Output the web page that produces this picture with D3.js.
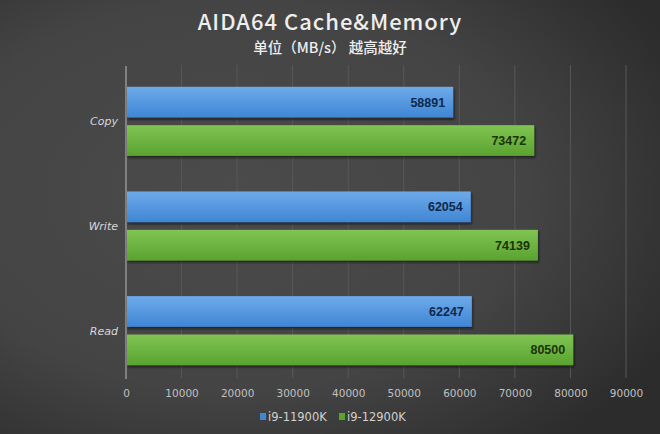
<!DOCTYPE html>
<html>
<head>
<meta charset="utf-8">
<script src="https://cdn.jsdelivr.net/npm/d3@7"></script>
<style>
  html, body { margin: 0; padding: 0; background: #3a3a3a; }
  svg { display: block; }
</style>
</head>
<body>
<div id="chart"></div>
<script>
var width = 660, height = 434;

var categories = ['Copy', 'Write', 'Read'];
var seriesNames = ['i9-11900K', 'i9-12900K'];
var i9_11900K = [58891, 62054, 62247];
var i9_12900K = [73472, 74139, 80500];
var xTicks = [0, 10000, 20000, 30000, 40000, 50000, 60000, 70000, 80000, 90000];

var colors = { 'i9-11900K': ['#6eaaea', '#3f86d4'], 'i9-12900K': ['#80c452', '#5aa330'] };
var labelColors = { 'i9-11900K': '#10284a', 'i9-12900K': '#1b3209' };

var rows = categories.map(function (c, i) {
  return { cat: c, vals: [
    { name: seriesNames[0], v: i9_11900K[i] },
    { name: seriesNames[1], v: i9_12900K[i] }
  ] };
});

var svg = d3.select('#chart').append('svg')
  .attr('width', width)
  .attr('height', height);

var defs = svg.append('defs');

// background vignette
var bg = defs.append('radialGradient').attr('id', 'bg')
  .attr('cx', '35%').attr('cy', '45%').attr('r', '75%');
bg.append('stop').attr('offset', '0%').attr('stop-color', '#4b4b4b');
bg.append('stop').attr('offset', '60%').attr('stop-color', '#444444');
bg.append('stop').attr('offset', '100%').attr('stop-color', '#2c2c2c');
svg.append('rect').attr('width', width).attr('height', height).attr('fill', 'url(#bg)');

seriesNames.forEach(function (s, i) {
  var g = defs.append('linearGradient').attr('id', 'grad' + i)
    .attr('x1', 0).attr('y1', 0).attr('x2', 0).attr('y2', 1);
  g.append('stop').attr('offset', '0%').attr('stop-color', colors[s][0]);
  g.append('stop').attr('offset', '100%').attr('stop-color', colors[s][1]);
});

var shadow = defs.append('filter').attr('id', 'shadow')
  .attr('x', '-5%').attr('y', '-20%').attr('width', '110%').attr('height', '150%');
shadow.append('feDropShadow').attr('dx', 1).attr('dy', 2).attr('stdDeviation', 1)
  .attr('flood-color', '#111').attr('flood-opacity', 0.7);

var x = d3.scaleLinear().domain([0, 90000]).range([126, 626]);
var y0 = d3.scaleBand().domain(categories).range([69, 383])
  .paddingInner(0.34).paddingOuter(0.17);
var y1 = d3.scaleBand().domain(seriesNames).range([0, y0.bandwidth()]).paddingInner(0.2);

// title
svg.append('text').attr('x', 330).attr('y', 30)
  .attr('text-anchor', 'middle')
  .attr('fill', '#eeeeee')
  .style('font-family', '"Noto Sans CJK SC", "Noto Sans", sans-serif')
  .style('font-size', '22px')
  .style('font-weight', 500)
  .style('letter-spacing', '1px')
  .text('AIDA64 Cache&Memory');
svg.append('text').attr('x', 330).attr('y', 53)
  .attr('text-anchor', 'middle')
  .attr('fill', '#eeeeee')
  .style('font-family', '"Noto Sans CJK SC", sans-serif')
  .style('font-size', '14.5px')
  .style('font-weight', 500)
  .text('单位（MB/s） 越高越好');

// gridlines
svg.append('g')
  .selectAll('line').data(xTicks.slice(1)).enter().append('line')
  .attr('x1', function (d) { return x(d); })
  .attr('x2', function (d) { return x(d); })
  .attr('y1', 65).attr('y2', 378)
  .attr('stroke', '#585858').attr('stroke-width', 1);

// x axis
var xAxis = svg.append('g')
  .attr('transform', 'translate(0,' + 378 + ')')
  .call(d3.axisBottom(x).tickValues(xTicks).tickSize(0).tickPadding(12).tickFormat(d3.format('d')));
xAxis.select('.domain').remove();
xAxis.selectAll('text')
  .attr('fill', '#c0c0c0')
  .style('font-family', '"DejaVu Sans", sans-serif')
  .style('font-size', '10.5px');

// y axis line
svg.append('line')
  .attr('x1', x(0)).attr('x2', x(0))
  .attr('y1', 66).attr('y2', 379)
  .attr('stroke', '#a8a8a8').attr('stroke-width', 1.2);

// bars
var groups = svg.append('g').selectAll('g').data(rows).enter().append('g')
  .attr('transform', function (d) { return 'translate(0,' + y0(d.cat) + ')'; });

groups.selectAll('rect').data(function (d) { return d.vals; }).enter().append('rect')
  .attr('x', x(0) + 1)
  .attr('y', function (d) { return y1(d.name); })
  .attr('width', function (d) { return x(d.v) - x(0) - 1; })
  .attr('height', y1.bandwidth())
  .attr('fill', function (d) { return 'url(#grad' + seriesNames.indexOf(d.name) + ')'; })
  .attr('filter', 'url(#shadow)');

groups.selectAll('text.val').data(function (d) { return d.vals; }).enter().append('text')
  .attr('class', 'val')
  .attr('x', function (d) { return x(d.v) - 8; })
  .attr('y', function (d) { return y1(d.name) + y1.bandwidth() / 2; })
  .attr('dy', '0.36em')
  .attr('text-anchor', 'end')
  .attr('fill', function (d) { return labelColors[d.name]; })
  .style('font-family', '"Liberation Sans", Arial, sans-serif')
  .style('font-weight', 'bold')
  .style('font-size', '12.5px')
  .text(function (d) { return d.v; });

// category labels
svg.append('g').selectAll('text').data(categories).enter().append('text')
  .attr('x', 118)
  .attr('y', function (d) { return y0(d) + y0.bandwidth() / 2; })
  .attr('dy', '0.35em')
  .attr('text-anchor', 'end')
  .attr('fill', '#d8d8d8')
  .style('font-family', '"DejaVu Sans", sans-serif')
  .style('font-style', 'italic')
  .style('font-size', '11px')
  .text(function (d) { return d; });

// legend
var legend = svg.append('g').attr('transform', 'translate(260,417)');
var legX = [0, 79];
seriesNames.forEach(function (s, i) {
  var lg = legend.append('g').attr('transform', 'translate(' + legX[i] + ',0)');
  lg.append('rect').attr('x', 0).attr('y', -4).attr('width', 6).attr('height', 7)
    .attr('fill', colors[s][1]);
  lg.append('text').attr('x', 8).attr('y', 0).attr('dy', '0.35em')
    .attr('fill', '#d0d0d0')
    .style('font-family', '"DejaVu Sans", sans-serif')
    .style('font-size', '11.5px')
    .text(s);
});
</script>
</body>
</html>
